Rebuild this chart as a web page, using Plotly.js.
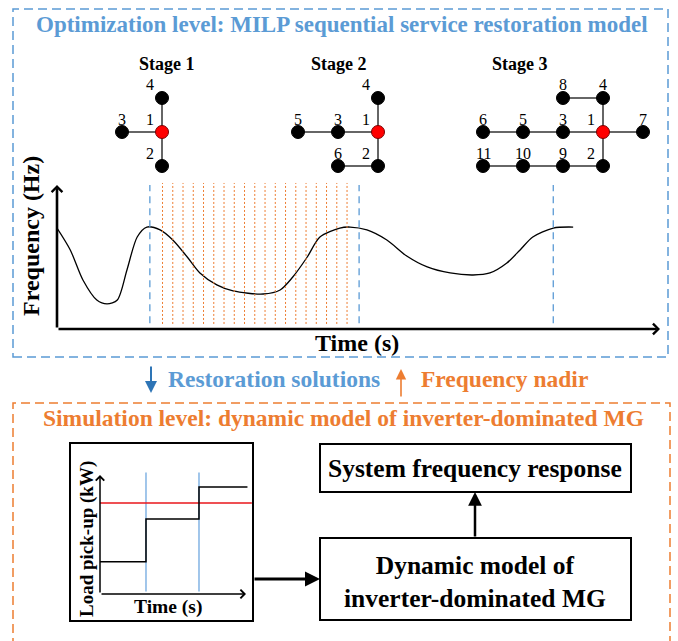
<!DOCTYPE html>
<html><head><meta charset="utf-8">
<script src="https://cdn.plot.ly/plotly-3.0.1.min.js"></script>
<style>html,body{margin:0;padding:0;background:#fff}#chart{width:678px;height:641px}</style>
</head><body><div id="chart"></div>
<script>
// ================= DATA =================
const stageNames = ['Stage 1', 'Stage 2', 'Stage 3'];
const sourceBus = '1';
// network per stage: bus id, grid column (relative to source bus), grid row
const stage1Nodes = ['1', '2', '3', '4'];
const stage1Cols = [0, 0, -1, 0];
const stage1Rows = [1, 2, 1, 0];
const stage1LabelPos = ['left', 'left', 'top', 'left'];
const stage1Edges = [['1', '4'], ['1', '3'], ['1', '2']];

const stage2Nodes = ['1', '2', '3', '4', '5', '6'];
const stage2Cols = [0, 0, -1, 0, -2, -1];
const stage2Rows = [1, 2, 1, 0, 1, 2];
const stage2LabelPos = ['left', 'left', 'top', 'left', 'top', 'top'];
const stage2Edges = [['1', '4'], ['5', '3'], ['3', '1'], ['1', '2'], ['2', '6']];

const stage3Nodes = ['1', '2', '3', '4', '5', '6', '7', '8', '9', '10', '11'];
const stage3Cols = [0, 0, -1, 0, -2, -3, 1, -1, -1, -2, -3];
const stage3Rows = [1, 2, 1, 0, 1, 1, 1, 0, 2, 2, 2];
const stage3LabelPos = ['left', 'left', 'top', 'top', 'top', 'top', 'top', 'top', 'top', 'top', 'top'];
const stage3Edges = [['8', '4'], ['4', '1'], ['6', '5'], ['5', '3'], ['3', '1'], ['1', '7'], ['1', '2'], ['2', '9'], ['9', '10'], ['10', '11']];

// frequency response (arbitrary units)
const freqTime = [0, 2.2, 4.3, 6.6, 8.3, 10.0, 11.6, 13.3, 14.9, 17.1, 19.2, 21.6, 23.7, 26.5, 29.2, 34.2, 37.0, 39.1, 41.5, 43.6, 46.9, 48.6, 51.4, 54.7, 58.0, 61.4, 65.2, 69.0, 71.8, 74.6, 76.8, 78.9, 82.3, 85.6];
const freqValue = [70.1, 54.9, 34.0, 20.1, 17.4, 20.1, 41.0, 63.9, 70.8, 68.8, 61.8, 50.0, 38.9, 30.6, 26.4, 24.3, 27.1, 36.1, 50.0, 63.9, 70.1, 70.8, 68.8, 61.8, 50.7, 43.1, 38.9, 37.5, 38.9, 45.8, 54.9, 63.9, 70.1, 70.8];
const stageBoundaryTimes = [15.4, 50.1, 82.3];
const candidateTimes = [17.5, 19.2, 20.9, 22.6, 24.3, 26.0, 27.7, 29.4, 31.1, 32.8, 34.5, 36.2, 37.9, 39.6, 41.3, 43.0, 44.7, 46.4, 48.1];

// load pick-up (arbitrary units)
const loadTime = [0, 3.15, 6.78, 10.1];
const loadValue = [2.7, 6.3, 9.0, 9.0];
const loadStepTimes = [3.15, 6.78];
const loadLimit = 7.65;
const loadLimitEnd = 10.4;

// ================= DRAWING =================
const W = 678, H = 641;
const PX = x => x / W;
const PY = y => 1 - y / H;
const SERIF = 'Liberation Serif, "Times New Roman", serif';
const BLUE = '#5b9bd5', DBLUE = '#2e75b6', ORANGE = '#ed7d31';

const stages = [
  {nodes: stage1Nodes, cols: stage1Cols, rows: stage1Rows, pos: stage1LabelPos, edges: stage1Edges},
  {nodes: stage2Nodes, cols: stage2Cols, rows: stage2Rows, pos: stage2LabelPos, edges: stage2Edges},
  {nodes: stage3Nodes, cols: stage3Cols, rows: stage3Rows, pos: stage3LabelPos, edges: stage3Edges}
];
const stageCenterPx = [162, 378, 603];
const stageTitlePx = [137, 339, 550];

const traces = [];
const annotations = [];
const shapes = [];
const layout = {
  width: W, height: H, margin: {l: 0, r: 0, t: 0, b: 0},
  paper_bgcolor: '#fff', plot_bgcolor: 'rgba(0,0,0,0)',
  showlegend: false, font: {family: SERIF, color: '#000'}
};

function hiddenAxis(range, domain, anchor) {
  return {range: range, domain: domain, anchor: anchor, visible: false, fixedrange: true, showgrid: false, zeroline: false};
}

stages.forEach((st, i) => {
  const sx = i === 0 ? '' : String(i + 1);
  const xa = 'x' + sx, ya = 'y' + sx;
  const c = stageCenterPx[i];
  layout['xaxis' + sx] = hiddenAxis([-3.5, 1.5], [PX(c - 140), PX(c + 60)], ya);
  layout['yaxis' + sx] = hiddenAxis([2.5, -0.5], [PY(183), PY(81)], xa);
  const idx = {};
  st.nodes.forEach((n, k) => idx[n] = k);
  const ex = [], ey = [];
  st.edges.forEach(([a, b]) => {
    ex.push(st.cols[idx[a]], st.cols[idx[b]], null);
    ey.push(st.rows[idx[a]], st.rows[idx[b]], null);
  });
  traces.push({type: 'scatter', mode: 'lines', x: ex, y: ey, xaxis: xa, yaxis: ya,
    line: {color: '#666', width: 2}, hoverinfo: 'skip'});
  traces.push({type: 'scatter', mode: 'markers', x: st.cols, y: st.rows, xaxis: xa, yaxis: ya,
    marker: {size: 13, color: st.nodes.map(n => n === sourceBus ? '#ff0000' : '#000'),
      line: {color: st.nodes.map(n => n === sourceBus ? '#7a0000' : '#000'), width: 1}},
    hoverinfo: 'skip'});
  st.nodes.forEach((n, k) => annotations.push({
    xref: xa, yref: ya, x: st.cols[k], y: st.rows[k], text: n, showarrow: false,
    xshift: st.pos[k] === 'left' ? -12 : 0, yshift: 13,
    font: {family: SERIF, size: 16, color: '#000'}
  }));
  annotations.push({xref: 'paper', yref: 'paper', x: PX(stageTitlePx[i]), y: PY(52), text: '<b>' + stageNames[i] + '</b>',
    showarrow: false, font: {family: SERIF, size: 18, color: '#000'}});
});

// frequency subplot (x4/y4)
layout.xaxis4 = hiddenAxis([0, 102], [PX(57), PX(57 + 102 * 6.03)], 'y4');
layout.yaxis4 = hiddenAxis([0, 102], [PY(329), PY(329 - 102 * 1.44)], 'x4');
traces.push({type: 'scatter', mode: 'lines', x: freqTime, y: freqValue, xaxis: 'x4', yaxis: 'y4',
  line: {color: '#000', width: 1.3, shape: 'spline', smoothing: 0.8}, hoverinfo: 'skip'});
candidateTimes.forEach(t => shapes.push({type: 'line', xref: 'x4', yref: 'y4', x0: t, x1: t, y0: 3.5, y1: 101.4,
  line: {color: ORANGE, width: 1, dash: '2px,2px'}}));
stageBoundaryTimes.forEach(t => shapes.push({type: 'line', xref: 'x4', yref: 'y4', x0: t, x1: t, y0: 4, y1: 100,
  line: {color: BLUE, width: 1.3, dash: '7px,5px'}}));
// axis arrows
annotations.push({xref: 'x4', yref: 'y4', axref: 'x4', ayref: 'y4', x: 100, y: 0, ax: 0, ay: 0, text: '',
  showarrow: true, arrowhead: 4, arrowsize: 0.8, arrowwidth: 2.6, arrowcolor: '#000'});
annotations.push({xref: 'x4', yref: 'y4', axref: 'x4', ayref: 'y4', x: 0, y: 100, ax: 0, ay: 0, text: '',
  showarrow: true, arrowhead: 4, arrowsize: 0.8, arrowwidth: 2.6, arrowcolor: '#000'});

// load pick-up subplot (x5/y5)
layout.xaxis5 = hiddenAxis([0, 11], [PX(100), PX(100 + 11 * 14.6)], 'y5');
layout.yaxis5 = hiddenAxis([0, 11], [PY(594), PY(594 - 11 * 11.9)], 'x5');
loadStepTimes.forEach(t => traces.push({type: 'scatter', mode: 'lines', x: [t, t], y: [0.2, 10.2], xaxis: 'x5', yaxis: 'y5',
  line: {color: '#8ab8e6', width: 1.6}, hoverinfo: 'skip'}));
traces.push({type: 'scatter', mode: 'lines', x: [0, loadLimitEnd], y: [loadLimit, loadLimit], xaxis: 'x5', yaxis: 'y5',
  line: {color: '#e8161b', width: 1.5}, hoverinfo: 'skip'});
traces.push({type: 'scatter', mode: 'lines', x: loadTime, y: loadValue, xaxis: 'x5', yaxis: 'y5',
  line: {color: '#000', width: 1.5, shape: 'hv'}, hoverinfo: 'skip'});
annotations.push({xref: 'x5', yref: 'y5', axref: 'x5', ayref: 'y5', x: 10, y: 0, ax: 0, ay: 0, text: '',
  showarrow: true, arrowhead: 4, arrowsize: 1.1, arrowwidth: 1.5, arrowcolor: '#000'});
annotations.push({xref: 'x5', yref: 'y5', axref: 'x5', ayref: 'y5', x: 0, y: 10, ax: 0, ay: 0, text: '',
  showarrow: true, arrowhead: 4, arrowsize: 1.1, arrowwidth: 1.5, arrowcolor: '#000'});

// frames / boxes
function rect(x0, y0, x1, y1, color, width, dash) {
  shapes.push({type: 'rect', xref: 'paper', yref: 'paper', x0: PX(x0), x1: PX(x1), y0: PY(y1), y1: PY(y0),
    line: {color: color, width: width, dash: dash || 'solid'}, fillcolor: 'rgba(0,0,0,0)'});
}
rect(13, 9, 668, 357, BLUE, 1.5, '9px,5px');
rect(13, 403, 670, 660, ORANGE, 1.5, '9px,5px');
rect(70, 443, 253, 621, '#000', 2);
rect(320, 444, 631, 492, '#000', 2);
rect(320, 538, 631, 620, '#000', 2);

// arrows between boxes and levels
function arrow(hx, hy, tx, ty, color, width, head, size) {
  annotations.push({xref: 'paper', yref: 'paper', x: PX(hx), y: PY(hy), ax: tx - hx, ay: ty - hy, text: '',
    showarrow: true, arrowhead: head, arrowsize: size, arrowwidth: width, arrowcolor: color});
}
arrow(151, 393, 151, 365, DBLUE, 2, 2, 1.2);
arrow(401, 369, 401, 398, ORANGE, 1.6, 2, 1.3);
arrow(475, 492, 475, 538, '#000', 2.5, 2, 1.1);
arrow(320, 579, 253, 579, '#000', 3, 2, 1);

// texts
function text(x, y, s, size, color, opts) {
  annotations.push(Object.assign({xref: 'paper', yref: 'paper', x: PX(x), y: PY(y), text: s, showarrow: false,
    xanchor: 'center', yanchor: 'middle', font: {family: SERIF, size: size, color: color}}, opts || {}));
}
text(342, 24, '<b>Optimization level: MILP sequential service restoration model</b>', 23, BLUE);
text(31, 236, '<b>Frequency (Hz)</b>', 24, '#000', {textangle: -90});
text(357, 343, '<b>Time (s)</b>', 24, '#000');
text(166, 379, '<b>Restoration solutions</b>', 23.5, BLUE, {xanchor: 'left'});
text(419, 379, '<b>Frequency nadir</b>', 23.5, ORANGE, {xanchor: 'left'});
text(343, 418, '<b>Simulation level: dynamic model of inverter-dominated MG</b>', 23.5, ORANGE);
text(87, 539, '<b>Load pick-up (kW)</b>', 19, '#000', {textangle: -90});
text(168, 607, '<b>Time (s)</b>', 19.5, '#000');
text(475, 468, '<b>System frequency response</b>', 25.5, '#000');
text(475, 582, '<b>Dynamic model of<br>inverter-dominated MG</b>', 25.5, '#000');

layout.annotations = annotations;
layout.shapes = shapes;
Plotly.newPlot('chart', traces, layout, {staticPlot: true, displayModeBar: false});
</script>
</body></html>
